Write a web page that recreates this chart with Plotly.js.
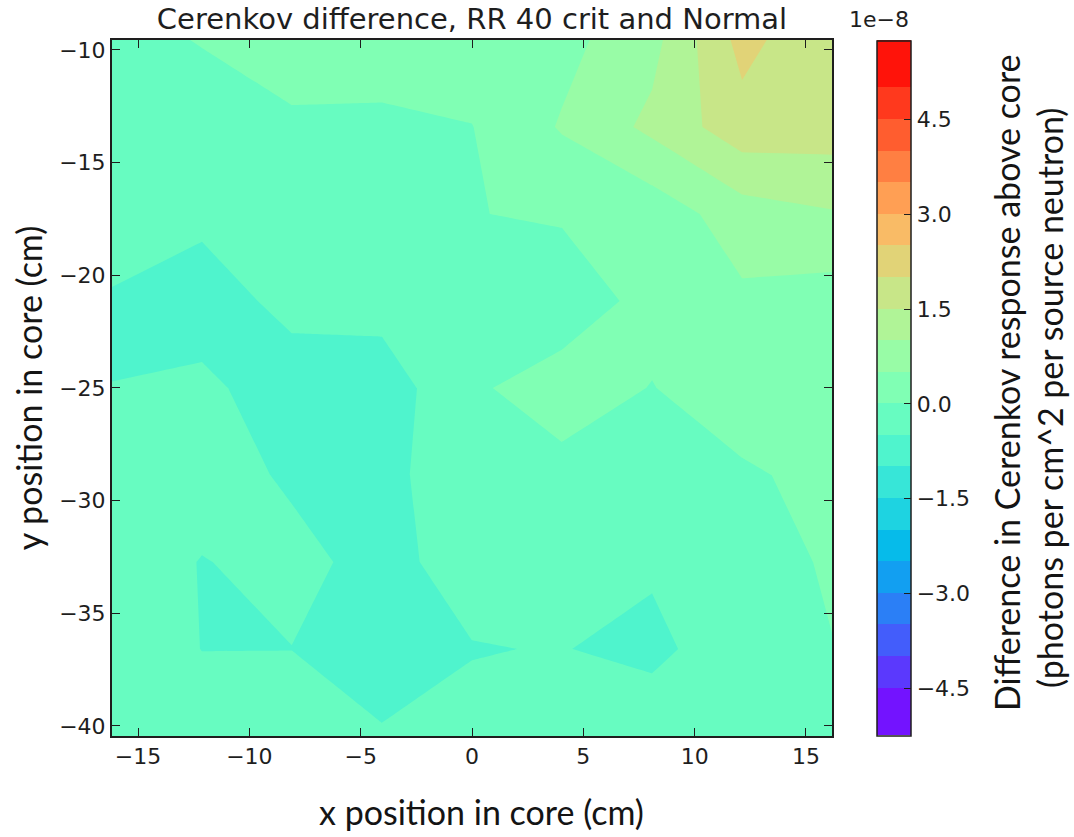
<!DOCTYPE html>
<html>
<head>
<meta charset="utf-8">
<script src="https://cdn.plot.ly/plotly-3.0.1.min.js"></script>
<style>
  html, body { margin: 0; padding: 0; background: #ffffff; }
  #chart { width: 1074px; height: 837px; }
</style>
</head>
<body>
<div id="chart"></div>
<script>
// Sample grid across the core (cm)
const xPos = [-16.17, -12.13, -8.09, -4.04, 0.0, 4.04, 8.09, 12.13, 16.17];
const yPos = [-40.45, -36.59, -32.73, -28.87, -25.01, -21.14, -17.28, -13.42, -9.56];

// Cerenkov response difference (RR 40 crit minus Normal), in units of 1e-8
// photons per cm^2 per source neutron; one row per y position, bottom row first
const rowY40 = [-0.200, -0.200, -0.200, -0.468, -0.366, -0.300, -0.114, -0.200, -0.100];
const rowY37 = [-0.100, -0.508, -0.505, -0.680, -0.520, -0.480, -0.650, -0.133, -0.018];
const rowY33 = [-0.270, -0.515, -0.389, -0.630, -0.320, -0.300, -0.416, -0.300, 0.080];
const rowY29 = [-0.350, -0.326, -0.555, -0.620, -0.233, -0.096, -0.150, -0.052, 0.106];
const rowY25 = [-0.495, -0.393, -0.760, -0.788, -0.047, 0.157, -0.011, 0.209, 0.200];
const rowY21 = [-0.560, -0.750, -0.347, -0.300, -0.150, -0.200, 0.1125, 0.405, 0.270];
const rowY17 = [-0.185, -0.382, -0.300, -0.200, -0.0095, 0.038, 0.196, 0.770, 0.960];
const rowY13 = [-0.250, -0.300, -0.050, -0.070, -0.010, 0.543, 1.120, 1.800, 1.754];
const rowY10 = [-0.200, 0.030, 0.150, 0.180, 0.250, 0.350, 0.840, 2.170, 1.550];

// Tick labels
const xTickVals = [-15, -10, -5, 0, 5, 10, 15];
const xTickText = ['\u221215', '\u221210', '\u22125', '0', '5', '10', '15'];
const yTickVals = [-40, -35, -30, -25, -20, -15, -10];
const yTickText = ['\u221240', '\u221235', '\u221230', '\u221225', '\u221220', '\u221215', '\u221210'];
const cbTickVals = [-4.5, -3.0, -1.5, 0.0, 1.5, 3.0, 4.5];
const cbTickText = ['\u22124.5', '\u22123.0', '\u22121.5', '0.0', '1.5', '3.0', '4.5'];

// Contour levels
const levelStart = -5.0;
const levelEnd = 5.5;
const levelStep = 0.5;

const zGrid = [rowY40, rowY37, rowY33, rowY29, rowY25, rowY21, rowY17, rowY13, rowY10];

// 'rainbow' colour map (gnuplot 33,13,10 functions), one colour per filled band
function rainbow(t) {
  const r = Math.min(1, Math.abs(2 * t - 0.5));
  const g = Math.sin(Math.PI * t);
  const b = Math.cos(Math.PI * t / 2);
  const c = v => Math.round(255 * Math.max(0, Math.min(1, v)));
  return 'rgb(' + c(r) + ',' + c(g) + ',' + c(b) + ')';
}
const nBands = Math.round((levelEnd - levelStart) / levelStep);
const bandColors = [];
for (let k = 0; k < nBands; k++) bandColors.push(rainbow((k + 0.5) / nBands));
// Plotly samples band k of a filled contour at (k + 1) / (nBands + 1)
const colorscale = [[0, bandColors[0]]];
for (let k = 0; k < nBands; k++) colorscale.push([(k + 1) / (nBands + 1), bandColors[k]]);
colorscale.push([1, bandColors[nBands - 1]]);

const axisColor = '#1e1e1e';
const tickFont = { family: 'DejaVu Sans', size: 22, color: axisColor };
const labelFont = { family: 'Lato', size: 34, color: '#141414' };

// plot area in pixels: x 112..832, y 40..736
const px = v => (v - 112) / 720;
const py = v => (736 - v) / 696;

const trace = {
  type: 'contour',
  x: xPos,
  y: yPos,
  z: zGrid,
  autocontour: false,
  contours: { start: levelStart, end: levelEnd, size: levelStep, coloring: 'fill', showlines: false },
  line: { width: 0, smoothing: 0 },
  colorscale: colorscale,
  hoverinfo: 'x+y+z',
  colorbar: {
    x: 1.0625, xanchor: 'left', xpad: 0,
    y: 0.5, yanchor: 'middle', ypad: 0,
    thickness: 34, thicknessmode: 'pixels',
    len: 695, lenmode: 'pixels',
    outlinewidth: 1.5, outlinecolor: axisColor,
    tickmode: 'array', tickvals: cbTickVals, ticktext: cbTickText,
    ticks: 'inside', ticklen: 7, tickwidth: 1.2, tickcolor: axisColor,
    tickfont: tickFont
  }
};

const layout = {
  width: 1074, height: 837,
  margin: { l: 112, r: 242, t: 40, b: 101, pad: 0 },
  paper_bgcolor: '#ffffff',
  plot_bgcolor: '#ffffff',
  showlegend: false,
  title: {
    text: 'Cerenkov difference, RR 40 crit and Normal',
    font: { family: 'DejaVu Sans', size: 29, color: axisColor },
    x: 0.5, xref: 'paper', xanchor: 'center',
    y: 1 - 19 / 837, yref: 'container', yanchor: 'middle'
  },
  xaxis: {
    range: [xPos[0], xPos[xPos.length - 1]],
    tickmode: 'array', tickvals: xTickVals, ticktext: xTickText,
    ticks: 'inside', ticklen: 8, tickwidth: 1.2, tickcolor: axisColor,
    showline: true, linecolor: axisColor, linewidth: 2, mirror: 'ticks',
    showgrid: false, zeroline: false,
    tickfont: tickFont
  },
  yaxis: {
    range: [yPos[0], yPos[yPos.length - 1]],
    tickmode: 'array', tickvals: yTickVals, ticktext: yTickText,
    ticks: 'inside', ticklen: 8, tickwidth: 1.2, tickcolor: axisColor,
    showline: true, linecolor: axisColor, linewidth: 2, mirror: 'ticks',
    showgrid: false, zeroline: false,
    tickfont: tickFont,
    title: { text: 'y position in core (cm)', font: labelFont, standoff: 6 }
  },
  annotations: [
    {
      text: 'x position in core (cm)', xref: 'paper', yref: 'paper',
      x: px(482), y: py(811), xanchor: 'center', yanchor: 'middle',
      showarrow: false, font: labelFont
    },
    {
      text: '1e\u22128', xref: 'paper', yref: 'paper',
      x: px(911), y: py(19), xanchor: 'right', yanchor: 'middle',
      showarrow: false, font: tickFont
    },
    {
      text: 'Difference in Cerenkov response above core', textangle: -90,
      xref: 'paper', yref: 'paper',
      x: px(1006), y: py(383), xanchor: 'center', yanchor: 'middle',
      showarrow: false, font: labelFont
    },
    {
      text: '(photons per cm^2 per source neutron)', textangle: -90,
      xref: 'paper', yref: 'paper',
      x: px(1049), y: py(398), xanchor: 'center', yanchor: 'middle',
      showarrow: false, font: labelFont
    }
  ]
};

Plotly.newPlot('chart', [trace], layout, { displayModeBar: false, responsive: false });
</script>
</body>
</html>
